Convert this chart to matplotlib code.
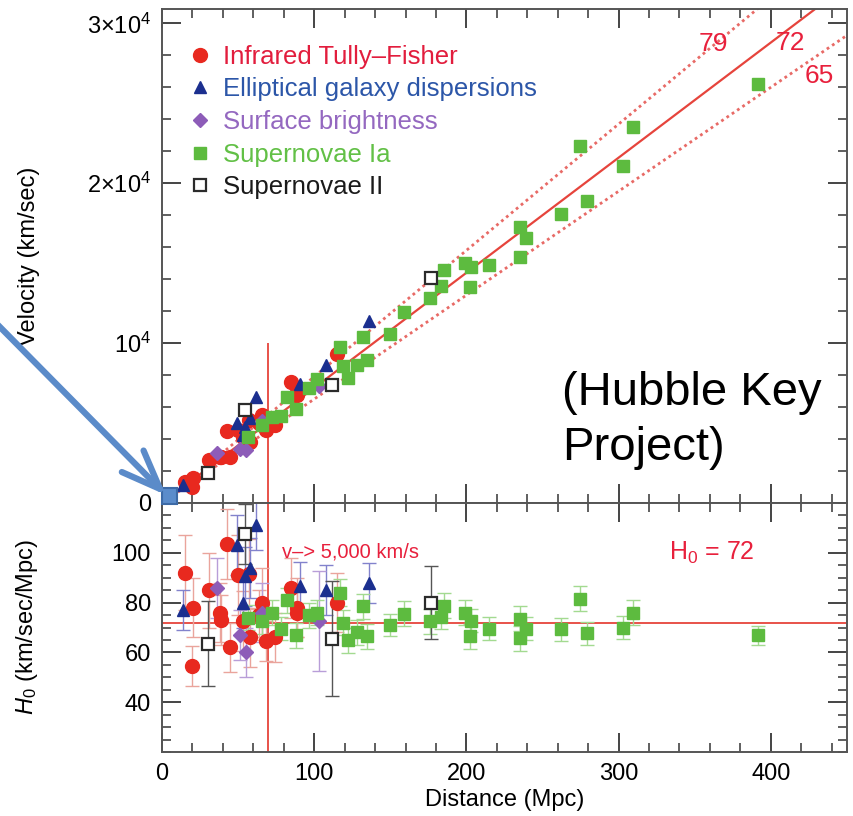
import matplotlib
matplotlib.use('Agg')
import matplotlib.pyplot as plt
from matplotlib.patches import FancyArrowPatch, Rectangle
from matplotlib.ticker import MultipleLocator, FixedLocator
from matplotlib.lines import Line2D

plt.rcParams['font.family'] = ['Liberation Sans', 'DejaVu Sans']
plt.rcParams['mathtext.fontset'] = 'custom'
plt.rcParams['mathtext.rm'] = 'Liberation Sans'
plt.rcParams['mathtext.it'] = 'Liberation Sans:italic'

# --- data
# Infrared Tully-Fisher
tf_d = [15, 20.5, 19.7, 31, 38, 39, 43, 45, 50, 57, 53, 58, 66, 64, 68, 74, 85, 88.5, 88.5, 115]
tf_v = [1300, 1550, 1000, 2700, 2900, 2850, 4500, 2900, 4550, 5200, 4150, 3800, 5500, 5000,
        4550, 4900, 7550, 6950, 6750, 9300]
tf_h = [92, 78, 54.5, 85, 76, 73, 103.5, 62, 91, 91.5, 72.5, 66, 80, 75, 64.5, 66, 86, 78, 76, 80]
tf_e = [15, 12, 8, 15, 12, 10, 14, 10, 16, 14, 12, 12, 14, 10, 8, 10, 12, 12, 10, 12]

# Elliptical galaxy dispersions
el_d = [13.5, 49, 62, 58, 54.5, 53, 90.5, 107.5, 136]
el_v = [1150, 5000, 6600, 5300, 4750, 4250, 7450, 8650, 11400]
el_h = [77, 103, 111, 94, 90.5, 80, 86.5, 85, 88]
el_e = [8, 12, 10, 12, 12, 10, 10, 10, 8]

# Surface brightness
sb_d = [36, 51, 55.5, 66, 103]
sb_v = [3100, 3400, 3300, 5100, 7300]
sb_h = [86, 67, 60, 76, 72.5]
sb_e = [12, 10, 10, 12, 20]

# Supernovae Ia
ia_d = [56.5, 66, 72, 78, 82, 88, 96.4, 101.6, 117, 119, 122, 128, 132, 135, 149.5, 159,
        176, 183.6, 185.6, 199, 203, 202.6, 215, 235.4, 239, 235.4, 262, 274.7, 279, 303,
        309.5, 391.5]
ia_v = [4150, 4850, 5350, 5430, 6650, 5900, 7200, 7750, 9750, 8550, 7800, 8650, 10400, 8950,
        10600, 11950, 12800, 13600, 14550, 15000, 14750, 13500, 14900, 17250, 16550, 15400,
        18100, 22300, 18900, 21050, 23500, 26200]
ia_h = [74, 72.5, 76, 69.6, 81, 66.8, 75, 76, 84, 72, 64.8, 68, 78.5, 66.5, 71, 75.6, 72.5,
        74.4, 78.8, 76, 72.8, 66.5, 69.6, 73.6, 69.6, 65.6, 69.2, 81.6, 67.6, 70, 76, 66.8]
ia_e = [5, 5, 5, 4.5, 5, 5, 5, 5, 5.5, 5, 5, 5, 5, 5, 4.5, 5, 5, 5, 5, 5, 4.5, 5, 4.5, 5,
        4.5, 5, 4.5, 5, 4.5, 4.5, 5, 4]

# Supernovae II
s2_d = [30, 54.5, 112, 177]
s2_v = [1850, 5800, 7400, 14050]
s2_h = [63.5, 107.5, 65.5, 80]
s2_e = [17, 12, 23, 14.5]

H0 = 72
H0_lo, H0_hi = 65, 79
v_cut = 5000

# --- styles
series = [
    ('Infrared Tully\u2013Fisher', tf_d, tf_v, tf_h, tf_e,
     dict(marker='o', ms=10, mfc='#e8291f', mec='#e8291f'), '#eaa49c', '#e21d3d'),
    ('Elliptical galaxy dispersions', el_d, el_v, el_h, el_e,
     dict(marker='^', ms=8.5, mfc='#1b2f8f', mec='#1b2f8f'), '#8282cc', '#2c56a8'),
    ('Surface brightness', sb_d, sb_v, sb_h, sb_e,
     dict(marker='D', ms=7, mfc='#8d5cb8', mec='#8d5cb8'), '#b89ed8', '#9468c0'),
    ('Supernovae Ia', ia_d, ia_v, ia_h, ia_e,
     dict(marker='s', ms=8, mfc='#5dbb3f', mec='#5dbb3f'), '#a3da90', '#62c046'),
    ('Supernovae II', s2_d, s2_v, s2_h, s2_e,
     dict(marker='s', ms=8, mfc='white', mec='#2b2b2b', mew=1.6), '#555555', '#1a1a1a'),
]

fig = plt.figure(figsize=(8.54, 8.16), dpi=100)
ax1 = fig.add_axes([0.1897, 0.3836, 0.802, 0.6054])
ax2 = fig.add_axes([0.1897, 0.0784, 0.802, 0.3052])

red = '#e6443c'
dots = '#e86a66'

# --- top panel: Hubble diagram
dd = [0, 450]
ax1.plot(dd, [H0 * x for x in dd], color=red, lw=1.6, zorder=2)
ax1.plot(dd, [H0_hi * x for x in dd], color=dots, lw=2.0, ls=(0, (1, 1.3)), zorder=2)
ax1.plot(dd, [H0_lo * x for x in dd], color=dots, lw=2.0, ls=(0, (1, 1.3)), zorder=2)
ax1.vlines(v_cut / H0, 0, 2 * v_cut, color=red, lw=1.3, zorder=2)

handles = []
for name, d, v, h, e, mk, ecol, tcol in series:
    ax1.plot(d, v, ls='none', zorder=3, **mk)
    handles.append(Line2D([], [], ls='none', label=name, **mk))

ax1.set_xlim(0, 450)
ax1.set_ylim(0, 30900)
ax1.yaxis.set_major_locator(FixedLocator([0, 10000, 20000, 30000]))
ax1.set_yticklabels(['0', '$10^4$', '2\u00d7$10^4$', '3\u00d7$10^4$'])
ax1.yaxis.set_minor_locator(MultipleLocator(2000))
ax1.set_ylabel('Velocity (km/sec)', fontsize=17)
ax1.yaxis.set_label_coords(-0.178, 0.5)

for txt, xx, yy in [(str(H0_hi), 362, 28700), (str(H0), 413, 28800), (str(H0_lo), 432, 26700)]:
    ax1.text(xx, yy, txt, color='#e8203c', fontsize=19, ha='center', va='center')

leg = ax1.legend(handles=handles, loc='upper left', bbox_to_anchor=(0.036, 0.928),
                 frameon=False, fontsize=18.5, handlelength=1.0, handletextpad=0.42,
                 labelspacing=0.34, borderpad=0, borderaxespad=0)
for t, s in zip(leg.get_texts(), series):
    t.set_color(s[7])

# --- bottom panel: H0 vs distance
ax2.axhline(H0, color=red, lw=1.3, zorder=2)
ax2.axvline(v_cut / H0, color=red, lw=1.3, zorder=2)
for name, d, v, h, e, mk, ecol, tcol in series:
    ax2.errorbar(d, h, yerr=e, fmt='none', ecolor=ecol, elinewidth=1.0,
                 capsize=5, capthick=1.0, zorder=2.5)
    ax2.plot(d, h, ls='none', zorder=3, **mk)

ax2.set_xlim(0, 450)
ax2.set_ylim(20, 120)
ax2.yaxis.set_major_locator(FixedLocator([40, 60, 80, 100]))
ax2.yaxis.set_minor_locator(MultipleLocator(5))
ax2.set_ylabel('$H_{\\mathrm{0}}$ (km/sec/Mpc)', fontsize=17)
ax2.yaxis.set_label_coords(-0.178, 0.5)
ax2.set_xlabel('Distance (Mpc)', fontsize=17)
ax2.xaxis.set_label_coords(0.5, -0.15)
ax2.text(79, 100.3, 'v\u2013> 5,000 km/s', color='#e8203c', fontsize=14.5, va='center')
ax2.text(333, 100, 'H$_0$ = 72', color='#e8203c', fontsize=18, va='center')

for ax in (ax1, ax2):
    ax.xaxis.set_major_locator(MultipleLocator(100))
    ax.xaxis.set_minor_locator(MultipleLocator(20))
    ax.tick_params(which='both', direction='in', top=True, right=True, color='#444444')
    ax.tick_params(which='major', length=13.5, width=1.4, labelsize=17, pad=8)
    ax.tick_params(which='minor', length=6.5, width=1.2)
    for sp in ax.spines.values():
        sp.set_color('#555555')
        sp.set_linewidth(1.4)
ax1.tick_params(labelbottom=False)

# --- annotations on top of the chart
fig.text(562 / 854, 1 - 405 / 816, '(Hubble Key', fontsize=34, va='baseline', ha='left')
fig.text(562 / 854, 1 - 460 / 816, 'Project)', fontsize=34, va='baseline', ha='left')

fig.add_artist(Rectangle((162 / 854, 1 - 504 / 816), 15 / 854, 16 / 816,
                         transform=fig.transFigure, facecolor='#5b8ccb',
                         edgecolor='#3d6aa6', lw=1.5, zorder=5))
fig.add_artist(FancyArrowPatch((-6 / 854, 1 - 321 / 816), (168 / 854, 1 - 497 / 816),
                               transform=fig.transFigure,
                               arrowstyle='->,head_length=28,head_width=11',
                               mutation_scale=1, color='#5b8bc9', lw=4.5,
                               capstyle='round', joinstyle='round', zorder=6))

fig.savefig('out.png', dpi=100)
